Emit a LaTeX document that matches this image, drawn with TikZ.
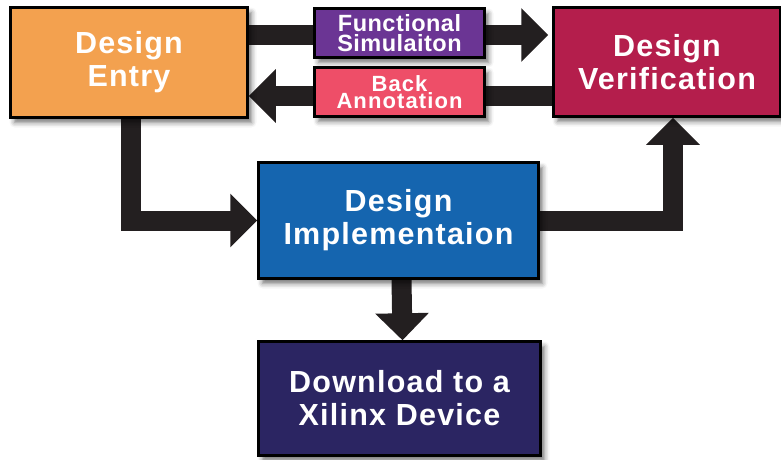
\documentclass[tikz,border=0pt]{standalone}
\usepackage{fontspec}
\setmainfont{Liberation Sans}
\newfontfamily\boxfont[LetterSpace=4]{Liberation Sans Bold}
\newfontfamily\tagfont[LetterSpace=2]{Liberation Sans Bold}
\newfontfamily\tagwidefont[LetterSpace=5]{Liberation Sans Bold}
\usetikzlibrary{arrows.meta,shadows.blur,backgrounds}
\definecolor{entryorange}{RGB}{243,161,79}
\definecolor{simpurple}{RGB}{107,53,148}
\definecolor{backpink}{RGB}{238,78,104}
\definecolor{vercrimson}{RGB}{180,30,76}
\definecolor{implblue}{RGB}{21,101,175}
\definecolor{dlnavy}{RGB}{43,37,98}
\definecolor{flowblack}{RGB}{35,31,32}
\begin{document}
\begin{tikzpicture}[x=1pt,y=-1pt,
    stage/.style={draw=black, line width=2.5pt, text=white, align=center, inner sep=0pt,
      font=\boxfont\fontsize{30.5}{33}\selectfont,
      blur shadow={shadow xshift=4pt, shadow yshift=-5pt, shadow blur radius=5pt, shadow opacity=55}},
    tag/.style={stage, font=\tagfont\fontsize{23.5}{20.5}\selectfont,
      minimum width=170pt, minimum height=49pt},
    flow/.style={draw=flowblack, line width=20pt, -{Triangle[width=52pt,length=27pt]}}]
  \clip (0,0) rectangle (781,459);
  % the boxes
  \node[stage, fill=entryorange, minimum width=237pt, minimum height=110pt] (entry) at (129,62.5) {Design\\Entry};
  \node[tag, fill=simpurple] (fun) at (399.5,33) {Functional\\Simulaiton};
  \node[tag, fill=backpink, font=\tagwidefont\fontsize{22}{17.5}\selectfont] (back) at (399.5,92) {Back\\Annotation};
  \node[stage, fill=vercrimson, minimum width=227pt, minimum height=109pt] (ver) at (667,62) {Design\\Verification};
  \node[stage, fill=implblue, minimum width=280pt, minimum height=116pt] (impl) at (398.5,220.5) {Design\\Implementaion};
  \node[stage, fill=dlnavy, minimum width=282pt, minimum height=114pt] (dl) at (399.5,398.5) {Download to a\\Xilinx Device};
  % the arrows go underneath
  \begin{scope}[on background layer]
    \draw[flow] ([yshift=-2pt]entry.east |- fun.east) -- ([xshift=-4pt,yshift=-2pt]ver.west |- fun.west);
    \draw[flow] ([yshift=-4pt]ver.west |- back.east) -- ([yshift=-4pt]entry.east |- back.west);
    \draw[flow] ([xshift=2pt]entry.south) |- (impl.west);
    \draw[flow] (impl.east) -| ([xshift=6pt]ver.south);
    \draw[flow] ([xshift=3pt]impl.south) -- ([xshift=3pt]dl.north);
  \end{scope}
\end{tikzpicture}
\end{document}
